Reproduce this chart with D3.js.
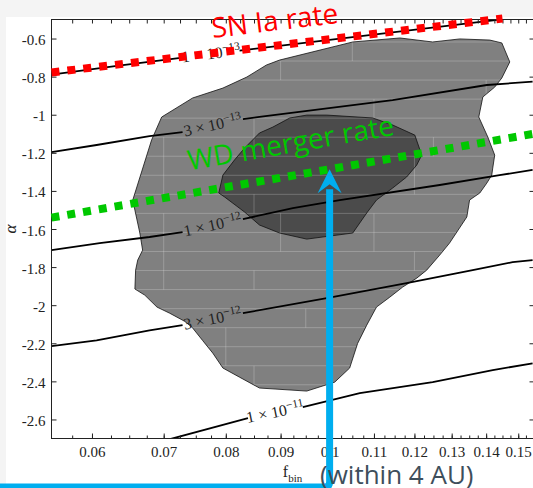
<!DOCTYPE html>
<html>
<head>
<meta charset="utf-8">
<script src="https://cdn.jsdelivr.net/npm/d3@7"></script>
<style>
  html, body { margin: 0; padding: 0; background: #f4f4f4; }
  svg { display: block; }
</style>
</head>
<body>
<svg id="chart" width="533" height="488"></svg>
<script>
// ---- axis ticks ----
const fbinTicks = [0.06, 0.07, 0.08, 0.09, 0.1, 0.11, 0.12, 0.13, 0.14, 0.15];
const alphaTicks = [-0.6, -0.8, -1, -1.2, -1.4, -1.6, -1.8, -2, -2.2, -2.4, -2.6];

// ---- confidence regions: [f_bin, alpha] ----
const outerRegion = [
  [0.0697,-1.012],[0.0745,-0.912],[0.0795,-0.860],[0.0837,-0.802],[0.0873,-0.739],[0.0898,-0.713],
  [0.1051,-0.618],[0.1163,-0.597],[0.1248,-0.618],[0.1323,-0.602],[0.1411,-0.608],[0.1448,-0.623],
  [0.1473,-0.723],[0.1448,-0.807],[0.1426,-0.855],[0.1390,-0.907],[0.1378,-1.012],[0.1405,-1.117],
  [0.1426,-1.212],[0.1420,-1.280],[0.1417,-1.317],[0.1402,-1.359],[0.1381,-1.411],[0.1351,-1.448],
  [0.1343,-1.537],[0.1294,-1.674],[0.1267,-1.737],[0.1232,-1.816],[0.1206,-1.858],[0.1170,-1.905],
  [0.1138,-1.958],[0.1106,-2.010],[0.1083,-2.105],[0.1062,-2.201],[0.1044,-2.330],[0.1011,-2.404],
  [0.0952,-2.451],[0.0860,-2.435],[0.0824,-2.378],[0.0795,-2.330],[0.0778,-2.252],[0.0761,-2.185],
  [0.0744,-2.116],[0.0732,-2.084],[0.0709,-2.042],[0.0690,-2.010],[0.0672,-1.947],[0.0658,-1.915],
  [0.0659,-1.816],[0.0662,-1.763],[0.0669,-1.711],[0.0665,-1.621],[0.0658,-1.501],[0.0655,-1.448],
  [0.0682,-1.133]
];
const innerRegion = [
  [0.0885,-1.065],[0.0918,-1.017],[0.0952,-1.002],[0.0994,-1.002],[0.1097,-1.017],[0.1145,-1.054],
  [0.1201,-1.107],[0.1219,-1.212],[0.1206,-1.264],[0.1180,-1.327],[0.1145,-1.385],[0.1106,-1.448],
  [0.1083,-1.516],[0.1051,-1.621],[0.0952,-1.653],[0.0898,-1.621],[0.0860,-1.579],[0.0833,-1.511],
  [0.0798,-1.432],[0.0788,-1.411],[0.0795,-1.317],[0.0815,-1.238],[0.0833,-1.175],[0.0860,-1.096]
];

// cell edges of the gridded likelihood map
const cellRowTops = [-0.618,-0.718,-0.818,-0.918,-1.018,-1.118,-1.218,-1.318,-1.418,-1.518,
                     -1.618,-1.718,-1.818,-1.918,-2.018,-2.118,-2.218,-2.318,-2.418,-2.518];
const cellEdgeF = [0.105,0.09,0.14,0.11,0.085,0.085,0.07,0.125,0.07,0.12,0.07,0.12,0.085,0.09,0.11,
                   0.07,0.09,0.11,0.07,0.07,0.12,0.07,0.085,0.10,0.095,0.08,0.08,0.085,0.085];
const cellEdgeRow = [-0.618,-0.718,-0.818,-0.918,-1.018,-1.118,-1.118,-1.118,-1.218,-1.218,-1.318,-1.318,
                     -1.418,-1.518,-1.518,-1.518,-1.618,-1.618,-1.618,-1.718,-1.718,-1.818,-1.818,-1.918,
                     -2.018,-2.118,-2.218,-2.318,-2.418];

// ---- rate contours (split where the label sits) ----
const rate1e13 = { mant: "1", exp: "\u221213",
  left:  [[0.0550,-0.789],[0.0633,-0.744],[0.0729,-0.700]],
  right: [[0.0824,-0.663],[0.1505,-0.488]] };
const rate3e13 = { mant: "3", exp: "\u221213",
  left:  [[0.0550,-1.196],[0.0606,-1.159],[0.0679,-1.112],[0.0729,-1.091]],
  right: [[0.0830,-1.023],[0.0860,-1.011],[0.1145,-0.923],[0.1402,-0.844],[0.1547,-0.826]] };
const rate1e12 = { mant: "1", exp: "\u221212",
  left:  [[0.0550,-1.711],[0.0610,-1.674],[0.0679,-1.642],[0.0729,-1.616]],
  right: [[0.0830,-1.548],[0.0924,-1.490],[0.1022,-1.448],[0.1267,-1.369],[0.1441,-1.317],[0.1547,-1.290]] };
const rate3e12 = { mant: "3", exp: "\u221212",
  left:  [[0.0550,-2.215],[0.0606,-2.185],[0.0679,-2.132],[0.0729,-2.105]],
  right: [[0.0830,-2.042],[0.0994,-1.963],[0.1180,-1.884],[0.1360,-1.816],[0.1482,-1.774],[0.1547,-1.763]] };
const rate1e11 = { mant: "1", exp: "\u221211",
  left:  [[0.0708,-2.705],[0.0839,-2.593]],
  right: [[0.0944,-2.535],[0.1067,-2.462],[0.1248,-2.404],[0.1420,-2.341],[0.1547,-2.305]] };
const rateContours = [rate1e13, rate3e13, rate1e12, rate3e12, rate1e11];

// ---- observed rates ----
const snIaRate = [[0.055,-0.778],[0.145,-0.495]];
const wdMergerRate = [[0.055,-1.540],[0.155,-1.100]];
const markedFbin = 0.1;

// ---- layout ----
const W = 533, H = 488;
const plot = { left: 51.5, right: 533.5, top: 19.5, bottom: 438.5 };

const svg = d3.select("#chart");
svg.append("rect").attr("x", 6).attr("y", 17).attr("width", W - 6).attr("height", H - 17).attr("fill", "#ffffff");

const x = d3.scaleLog().domain([0.055, 0.155]).range([plot.left, plot.right]);
const y = d3.scaleLinear().domain([-2.7, -0.5]).range([plot.bottom, plot.top]);
const line = d3.line().x(d => x(d[0])).y(d => y(d[1]));

const defs = svg.append("defs");
defs.append("clipPath").attr("id", "plotClip").append("rect")
  .attr("x", plot.left).attr("y", plot.top)
  .attr("width", plot.right - plot.left).attr("height", plot.bottom - plot.top);
defs.append("clipPath").attr("id", "outerClip").append("path")
  .attr("d", line(outerRegion) + "Z");

const g = svg.append("g").attr("clip-path", "url(#plotClip)");

// shaded regions
g.append("path").attr("d", line(outerRegion) + "Z").attr("fill", "#808080");
g.append("path").attr("d", line(innerRegion) + "Z").attr("fill", "#4b4b4b");

// faint cell edges inside the shaded area
const cells = g.append("g").attr("clip-path", "url(#outerClip)")
  .attr("stroke", "rgba(255,255,255,0.22)").attr("stroke-width", 1);
cells.selectAll("line.h").data(cellRowTops).join("line").attr("class", "h")
  .attr("x1", plot.left).attr("x2", plot.right)
  .attr("y1", d => y(d)).attr("y2", d => y(d));
cells.selectAll("line.v").data(cellEdgeF.map((f, i) => [f, cellEdgeRow[i]])).join("line").attr("class", "v")
  .attr("x1", d => x(d[0])).attr("x2", d => x(d[0]))
  .attr("y1", d => y(d[1])).attr("y2", d => y(d[1] - 0.1));

// region outlines
g.append("path").attr("d", line(outerRegion) + "Z").attr("fill", "none").attr("stroke", "#111").attr("stroke-width", 0.8);
g.append("path").attr("d", line(innerRegion) + "Z").attr("fill", "none").attr("stroke", "#111").attr("stroke-width", 0.8);

// rate contours with inline labels
rateContours.forEach(c => {
  g.append("path").attr("d", line(c.left)).attr("fill", "none").attr("stroke", "#000").attr("stroke-width", 1.8);
  g.append("path").attr("d", line(c.right)).attr("fill", "none").attr("stroke", "#000").attr("stroke-width", 1.8);
  const a = c.left[c.left.length - 1], b = c.right[0];
  const x1 = x(a[0]), y1 = y(a[1]), x2 = x(b[0]), y2 = y(b[1]);
  const ang = Math.atan2(y2 - y1, x2 - x1) * 180 / Math.PI;
  const t = svg.append("text")
    .attr("transform", `translate(${(x1 + x2) / 2},${(y1 + y2) / 2}) rotate(${ang})`)
    .attr("text-anchor", "middle").attr("dy", "0.3em")
    .attr("font-family", "'Liberation Serif', 'DejaVu Serif', serif").attr("font-size", 16)
    .attr("fill", "#222");
  t.append("tspan").text(c.mant + " \u00d7 10");
  t.append("tspan").attr("dy", "-0.5em").attr("font-size", 11.5).text(c.exp);
});

// ---- axes ----
const axFont = "'Liberation Serif', 'Times New Roman', serif";
const minorF = d3.range(0.0575, 0.1551, 0.0025);
function styleAxis(sel) {
  sel.select(".domain").remove();
  sel.selectAll("line").attr("stroke", "#222");
  sel.selectAll("text").attr("font-family", axFont).attr("font-size", 15).attr("fill", "#222");
}
function ticksOnly(sel) {
  sel.select(".domain").remove();
  sel.selectAll("text").remove();
  sel.selectAll("line").attr("stroke", "#222");
}
svg.append("g").attr("transform", `translate(0,${plot.bottom})`)
  .call(d3.axisBottom(x).tickValues(minorF).tickSize(-3))
  .call(ticksOnly);
svg.append("g").attr("transform", `translate(0,${plot.top})`)
  .call(d3.axisTop(x).tickValues(minorF).tickSize(-4))
  .call(ticksOnly);
svg.append("g").attr("transform", `translate(${plot.right},0)`)
  .call(d3.axisRight(y).tickValues(alphaTicks).tickSize(-4))
  .call(ticksOnly);
svg.append("g").attr("transform", `translate(0,${plot.bottom})`)
  .call(d3.axisBottom(x).tickValues(fbinTicks).tickSize(-5).tickPadding(8).tickFormat(d => String(d)))
  .call(styleAxis);
const yl = svg.append("g").attr("transform", `translate(${plot.left},0)`)
  .call(d3.axisLeft(y).tickValues(alphaTicks).tickSize(-5).tickPadding(6).tickFormat(d => String(d)))
  .call(styleAxis);
yl.selectAll("text").attr("dy", "0.4em");

// frame
svg.append("rect").attr("x", plot.left).attr("y", plot.top)
  .attr("width", plot.right - plot.left).attr("height", plot.bottom - plot.top)
  .attr("fill", "none").attr("stroke", "#222").attr("stroke-width", 1);

// axis titles
const xt = svg.append("text").attr("x", (plot.left + plot.right) / 2).attr("y", 477)
  .attr("text-anchor", "middle").attr("font-family", axFont).attr("fill", "#222");
xt.append("tspan").attr("font-size", 16).text("f");
xt.append("tspan").attr("font-size", 11).attr("dy", 5).text("bin");
svg.append("text")
  .attr("transform", `translate(16,${(plot.top + plot.bottom) / 2}) rotate(-90)`)
  .attr("text-anchor", "middle").attr("font-family", axFont).attr("font-style", "italic")
  .attr("font-size", 17).attr("fill", "#222").text("\u03b1");

// ---- observed rate lines ----
function rateLine(pts, color, label, labelPos) {
  svg.append("path").attr("d", line(pts)).attr("fill", "none")
    .attr("stroke", color).attr("stroke-width", 8).attr("stroke-dasharray", "8,8");
  const ang = Math.atan2(y(pts[1][1]) - y(pts[0][1]), x(pts[1][0]) - x(pts[0][0])) * 180 / Math.PI;
  svg.append("text")
    .attr("transform", `translate(${x(labelPos[0])},${y(labelPos[1])}) rotate(${ang})`)
    .attr("font-family", "'Open Sans', 'Noto Sans', sans-serif").attr("font-size", 28)
    .attr("fill", color).text(label);
}
rateLine(snIaRate, "#ff0000", "SN Ia rate", [0.0778, -0.597]);
rateLine(wdMergerRate, "#00c800", "WD merger rate", [0.0740, -1.293]);

// ---- arrow marking f_bin = 0.1 ----
const ax = x(markedFbin);
const tipY = y(wdMergerRate[0][1] + (wdMergerRate[1][1] - wdMergerRate[0][1]) *
  (Math.log(markedFbin / wdMergerRate[0][0]) / Math.log(wdMergerRate[1][0] / wdMergerRate[0][0])));
const baseY = H - 1;
const blue = "#00aeef";
svg.append("path")
  .attr("d", `M-10,${baseY} H${ax - 5} Q${ax},${baseY} ${ax},${baseY - 5} V${tipY + 20}`)
  .attr("fill", "none").attr("stroke", blue).attr("stroke-width", 7);
svg.append("path")
  .attr("d", `M${ax},${tipY} L${ax + 12},${tipY + 24} L${ax},${tipY + 15} L${ax - 12},${tipY + 24} Z`)
  .attr("fill", blue);

svg.append("text").attr("x", 320).attr("y", 483.5)
  .attr("font-family", "'Open Sans', 'Noto Sans', sans-serif").attr("font-size", 26)
  .attr("fill", "#3e4e5b").text("(within 4 AU)");
</script>
</body>
</html>
